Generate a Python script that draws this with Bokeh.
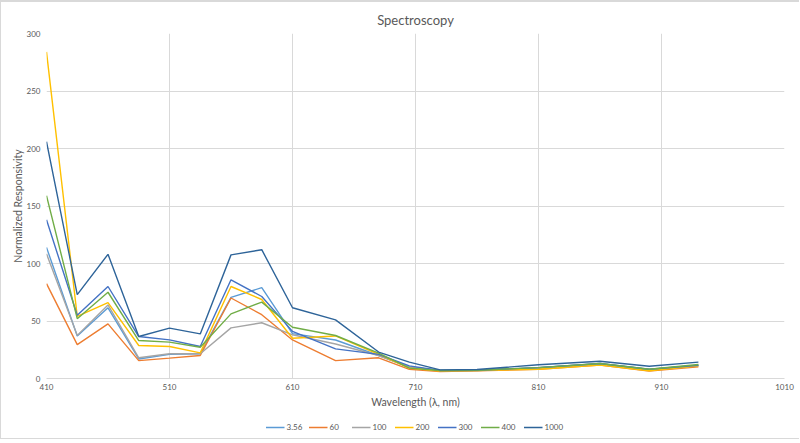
from bokeh.plotting import figure
from bokeh.layouts import column
from bokeh.models import FixedTicker, Legend, LegendItem, Range1d
from bokeh.embed import file_html
from bokeh.resources import INLINE

# Channel centre wavelengths (nm)
wavelengths = [410, 435, 460, 485, 510, 535, 560, 585, 610, 645, 680, 705,
               730, 760, 810, 860, 900, 940]

# Normalized responsivity per series
s_3_56 = [114, 37, 61.5, 17, 21, 21.5, 70.5, 79, 39, 33.5, 20, 10,
          7, 7, 9.3, 12.8, 7.8, 11.3]
s_60 = [82.5, 29.5, 47.5, 15.5, 17.7, 20, 70, 55.5, 33.5, 15.5, 18, 8,
        6, 6.8, 8, 11.6, 6.4, 10.1]
s_100 = [108.5, 37.5, 64, 18, 21.5, 21.5, 44, 48.5, 38, 30, 20, 10,
         7, 7, 9.3, 12.8, 7.8, 11.3]
s_200 = [284, 54, 66, 28.7, 27.8, 22.3, 80, 68.7, 35, 37, 21, 9,
         6.5, 7, 8, 11.6, 6.8, 11]
s_300 = [138, 55, 80, 36.5, 33.6, 27.8, 85.8, 71.3, 41, 25.8, 21, 11,
         7, 7.2, 9.5, 13, 8, 11.5]
s_400 = [159, 52, 75, 33, 31.6, 27.2, 56.2, 66.4, 44.6, 37.4, 22, 9,
         7, 7.2, 9.5, 13, 8, 12.2]
s_1000 = [206, 73, 108, 36.5, 43.8, 38.8, 107.5, 112, 61.5, 51, 23, 14.2,
          7.5, 7.8, 11.9, 15, 10.7, 14.2]

series_names = ["3.56", "60", "100", "200", "300", "400", "1000"]
series_values = [s_3_56, s_60, s_100, s_200, s_300, s_400, s_1000]
series_colors = ["#5B9BD5", "#ED7D31", "#A5A5A5", "#FFC000", "#4472C4",
                 "#70AD47", "#2E6499"]

x_ticks = [410, 510, 610, 710, 810, 910, 1010]
y_ticks = [0, 50, 100, 150, 200, 250, 300]

FONT = "Lato"
TEXT = "#595959"
GRID = "#D9D9D9"

# Main chart
p = figure(width=799, height=414, output_backend="svg", toolbar_location=None,
           x_range=Range1d(410, 1010), y_range=Range1d(0, 300),
           min_border_left=45, min_border_right=16, min_border_top=31,
           min_border_bottom=38)
p.styles = {"border-top": "2px solid #D9D9D9",
            "border-left": "1px solid #D9D9D9"}
p.outline_line_color = None
p.background_fill_color = "white"
p.border_fill_color = "white"

p.title.text = "Spectroscopy"
p.title.align = "center"
p.title.text_font = FONT
p.title.text_font_size = "13px"
p.title.text_font_style = "normal"
p.title.text_color = TEXT
p.title.offset = 0
p.title.standoff = 12

p.xaxis.ticker = FixedTicker(ticks=x_ticks)
p.yaxis.ticker = FixedTicker(ticks=y_ticks)
for ax in (p.xaxis[0], p.yaxis[0]):
    ax.major_tick_line_color = None
    ax.minor_tick_line_color = None
    ax.major_tick_out = 0
    ax.major_tick_in = 0
    ax.major_label_text_font = FONT
    ax.major_label_text_font_size = "8px"
    ax.major_label_text_color = TEXT
    ax.axis_label_text_font = FONT
    ax.axis_label_text_font_size = "10.5px"
    ax.axis_label_text_font_style = "normal"
    ax.axis_label_text_color = TEXT
p.xaxis.axis_line_color = GRID
p.yaxis.axis_line_color = None
p.xaxis.axis_label = "Wavelength (λ, nm)"
p.yaxis.axis_label = "Normalized Responsivity"
p.xaxis.major_label_standoff = 5
p.yaxis.major_label_standoff = 6
p.xaxis.axis_label_standoff = 3
p.yaxis.axis_label_standoff = 0

p.xgrid.grid_line_color = GRID
p.ygrid.grid_line_color = GRID

for name, vals, color in zip(series_names, series_values, series_colors):
    p.line(wavelengths, vals, line_color=color, line_width=1.4)

# Legend strip below the chart; its lines sit outside the strip's ranges,
# so only the legend entries are visible.
leg = figure(width=799, height=25, output_backend="svg", toolbar_location=None,
             x_range=Range1d(0, 1), y_range=Range1d(0, 1), min_border=0)
leg.styles = {"border-left": "1px solid #D9D9D9",
              "border-bottom": "1px solid #D9D9D9"}
leg.axis.visible = False
leg.grid.visible = False
leg.outline_line_color = None
leg.border_fill_color = "white"

items = []
for name, vals, color in zip(series_names, series_values, series_colors):
    r = leg.line(wavelengths, vals, line_color=color, line_width=1.4)
    items.append(LegendItem(label=name, renderers=[r]))

legend = Legend(items=items, orientation="horizontal", location="center")
legend.label_text_font = FONT
legend.label_text_font_size = "8px"
legend.label_text_color = TEXT
legend.glyph_width = 19
legend.glyph_height = 10
legend.label_height = 10
legend.label_standoff = 2
legend.spacing = 2
legend.padding = 2
legend.margin = 0
legend.border_line_color = None
legend.background_fill_alpha = 0
leg.add_layout(legend, "center")

layout = column(p, leg, spacing=0)
open("out.html", "w").write(file_html(layout, INLINE))
